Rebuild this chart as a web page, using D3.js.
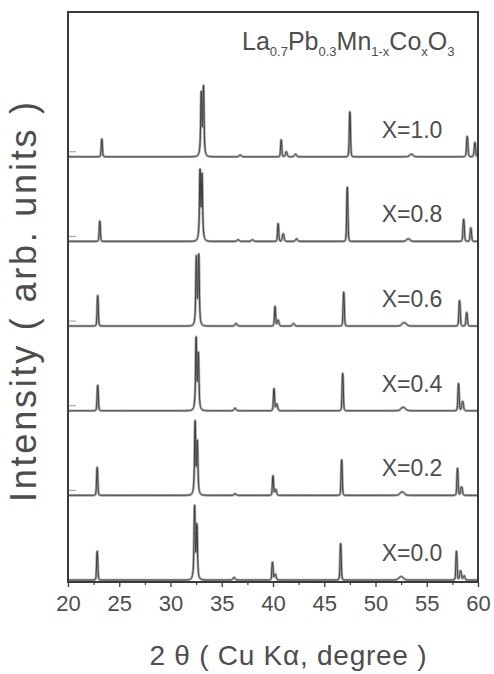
<!DOCTYPE html>
<html>
<head>
<meta charset="utf-8">
<script src="https://cdn.jsdelivr.net/npm/d3@7"></script>
<style>
  html, body { margin: 0; padding: 0; background: #fff; }
  svg { display: block; font-family: "Liberation Sans", Arial, sans-serif; }
</style>
</head>
<body>
<svg id="chart" width="494" height="674"></svg>
<script>
// Co content of each sample, bottom trace first
const samples = ["X=0.0", "X=0.2", "X=0.4", "X=0.6", "X=0.8", "X=1.0"];

// Reflections of each pattern: [2θ (deg), intensity (arb.), half width (deg)]
const peaks00 = [[22.85, 34, 0.07], [32.35, 68, 0.06], [32.58, 48, 0.06], [32.45, 22, 0.22],
  [36.2, 3, 0.12], [39.95, 21, 0.07], [40.22, 7, 0.1], [46.6, 43, 0.07],
  [52.5, 4, 0.25], [57.9, 34, 0.07], [58.3, 11, 0.1], [58.65, 5, 0.1]];
const peaks02 = [[22.85, 33, 0.07], [32.4, 68, 0.06], [32.62, 46, 0.06], [32.5, 22, 0.22],
  [36.3, 2, 0.12], [40.0, 23, 0.07], [40.27, 7, 0.1], [46.7, 42, 0.07],
  [52.6, 4, 0.25], [58.0, 32, 0.07], [58.4, 10, 0.1]];
const peaks04 = [[22.9, 30, 0.07], [32.5, 67, 0.06], [32.72, 50, 0.06], [32.6, 22, 0.22],
  [36.3, 3, 0.12], [40.1, 26, 0.07], [40.37, 8, 0.1], [46.8, 44, 0.07],
  [52.7, 4, 0.25], [58.1, 32, 0.07], [58.5, 11, 0.1]];
const peaks06 = [[22.9, 36, 0.07], [32.52, 64, 0.06], [32.76, 66, 0.06], [32.64, 22, 0.22],
  [36.4, 3, 0.12], [40.2, 23, 0.07], [40.5, 7, 0.1], [42.0, 3, 0.12], [46.9, 40, 0.07],
  [52.8, 4, 0.25], [58.2, 30, 0.08], [58.9, 16, 0.08]];
const peaks08 = [[23.1, 24, 0.07], [32.88, 65, 0.06], [33.08, 60, 0.06], [32.98, 22, 0.22],
  [36.6, 2, 0.12], [38.0, 2, 0.12], [40.5, 21, 0.07], [41.0, 9, 0.1], [42.3, 3, 0.12],
  [47.25, 64, 0.07], [53.2, 3, 0.2], [58.6, 26, 0.08], [59.3, 16, 0.08]];
const peaks10 = [[23.3, 21, 0.07], [33.0, 57, 0.06], [33.22, 65, 0.06], [33.1, 22, 0.22],
  [36.8, 2, 0.12], [40.8, 20, 0.07], [41.3, 6, 0.1], [42.2, 3, 0.12],
  [47.5, 53, 0.07], [53.5, 3, 0.2], [58.95, 24, 0.08], [59.7, 17, 0.08]];
const patterns = [peaks00, peaks02, peaks04, peaks06, peaks08, peaks10];

// Axis ticks and titles
const majorTicks = [20, 25, 30, 35, 40, 45, 50, 55, 60];
const minorTicks = [22.5, 27.5, 32.5, 37.5, 42.5, 47.5, 52.5, 57.5];
const stackStep = 100;          // vertical shift between successive patterns
const xTitle = "2 θ ( Cu Kα, degree )";
const yTitle = "Intensity ( arb. units )";

const svg = d3.select("#chart");
const x = d3.scaleLinear().domain([20, 60]).range([68, 478]);
const y = d3.scaleLinear().domain([-3.5, 671]).range([583, 12]);

const ink = "#3a3a3a";
const textInk = "#4d4d4d";

// sampling grid for the profile of each pattern
const grid = d3.range(20, 60.0001, 0.01);
function profile(list, offset) {
  return grid.map(t => {
    let v = 0;
    for (const [p, h, w] of list) {
      const u = (t - p) / w;
      v += h / (1 + u * u * u * u * 0.6 + u * u * 0.4);
    }
    return [t, offset + v];
  });
}

const line = d3.line().x(d => x(d[0])).y(d => y(d[1]));
const traces = svg.append("g").attr("clip-path", "url(#plotclip)");
svg.append("clipPath").attr("id", "plotclip")
  .append("rect").attr("x", 68).attr("y", 12).attr("width", 410).attr("height", 571);

patterns.forEach((list, i) => {
  const pts = profile(list, i * stackStep);
  traces.append("path").attr("d", line(pts))
    .attr("fill", "none").attr("stroke", "#a8a8a8").attr("stroke-width", 2.6)
    .attr("stroke-linejoin", "round");
  traces.append("path").attr("d", line(pts))
    .attr("fill", "none").attr("stroke", ink).attr("stroke-width", 1)
    .attr("stroke-linejoin", "round");
});

// sample labels
svg.append("g").selectAll("text").data(samples).join("text")
  .attr("x", x(50.6))
  .attr("y", (d, i) => y(i * stackStep) - 19)
  .attr("font-size", 23).attr("fill", textInk)
  .text(d => d);

// compound formula
const formula = svg.append("text").attr("x", 242).attr("y", 50)
  .attr("font-size", 25).attr("fill", textInk);
[["La", 0], ["0.7", 1], ["Pb", 0], ["0.3", 1], ["Mn", 0], ["1-x", 1],
 ["Co", 0], ["x", 1], ["O", 0], ["3", 1]].forEach(([s, sub], k, arr) => {
  const prevSub = k > 0 && arr[k - 1][1];
  formula.append("tspan")
    .attr("font-size", sub ? 13 : 25)
    .attr("dy", sub ? 6 : (prevSub ? -6 : 0))
    .text(s);
});

// bottom axis
const xAxis = svg.append("g").attr("transform", "translate(0,582)")
  .call(d3.axisBottom(x).tickValues(majorTicks).tickSize(5).tickPadding(8)
    .tickFormat(d3.format("d")));
xAxis.select(".domain").remove();
xAxis.selectAll(".tick line").attr("stroke", ink).attr("stroke-width", 1.3);
xAxis.selectAll(".tick text").attr("font-size", 22).attr("fill", textInk)
  .attr("font-family", "Liberation Sans, Arial, sans-serif");
const xMinor = svg.append("g").attr("transform", "translate(0,582)")
  .call(d3.axisBottom(x).tickValues(minorTicks).tickSize(3).tickFormat(""));
xMinor.select(".domain").remove();
xMinor.selectAll(".tick line").attr("stroke", ink).attr("stroke-width", 1.2);

// small marks on the left edge at each stacked baseline
svg.append("g").selectAll("line").data(samples.slice(1)).join("line")
  .attr("x1", 68).attr("x2", 76)
  .attr("y1", (d, i) => y((i + 1) * stackStep) - 5)
  .attr("y2", (d, i) => y((i + 1) * stackStep) - 5)
  .attr("stroke", "#999").attr("stroke-width", 1);

// plot frame
svg.append("rect").attr("x", 68).attr("y", 12).attr("width", 410).attr("height", 570)
  .attr("fill", "none").attr("stroke", ink).attr("stroke-width", 2);

// axis titles
svg.append("text").attr("x", 288).attr("y", 665).attr("text-anchor", "middle")
  .attr("font-size", 28).attr("fill", textInk)
  .attr("textLength", 277).attr("lengthAdjust", "spacing")
  .text(xTitle);
svg.append("text").attr("transform", "translate(36,302) rotate(-90)")
  .attr("text-anchor", "middle").attr("font-size", 36).attr("fill", textInk)
  .attr("textLength", 400).attr("lengthAdjust", "spacing")
  .text(yTitle);
</script>
</body>
</html>
